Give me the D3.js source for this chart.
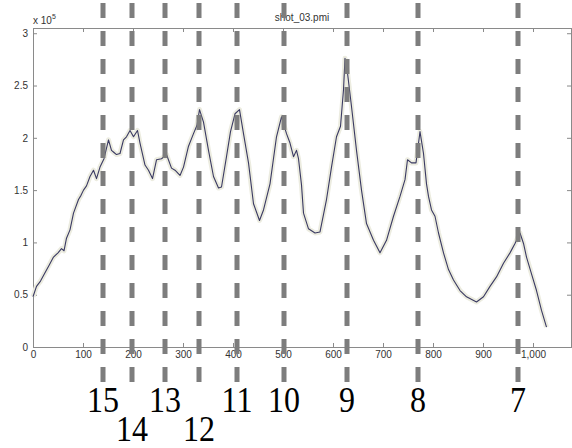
<!DOCTYPE html>
<html lang="en">
<head>
<meta charset="UTF-8">
<title>shot_03.pmi</title>
<script src="https://d3js.org/d3.v7.min.js"></script>
<style>
  body { margin: 0; background: #fff; }
  svg { display: block; }
</style>
</head>
<body>
<svg width="572" height="448"></svg>
<script>
// curve samples (x index, intensity in units of 1e5)
const sampleX = [0, 7, 15, 24, 32, 41, 50, 57, 62, 67, 74, 81, 91, 96, 101, 107, 114, 121, 127, 134,
  142, 151, 157, 162, 167, 174, 181, 187, 194, 201, 209, 214, 224, 231, 239, 247, 257, 267, 277, 284,
  294, 301, 311, 321, 328, 333, 341, 351, 361, 371, 377, 387, 395, 404, 413, 421, 431, 441, 453, 461,
  474, 487, 497, 507, 514, 521, 527, 531, 537, 541, 551, 564, 574, 587, 597, 607, 615, 621, 624, 629,
  637, 647, 657, 667, 681, 694, 707, 721, 734, 744, 749, 757, 766, 774, 781, 787, 791, 797, 804, 811,
  821, 831, 841, 854, 867, 887, 901, 914, 927, 941, 954, 964, 974, 981, 987, 997, 1007, 1017, 1027];
const sampleY = [0.48, 0.58, 0.63, 0.71, 0.78, 0.86, 0.90, 0.94, 0.92, 1.04, 1.12, 1.28, 1.41, 1.45, 1.50, 1.54, 1.63, 1.69, 1.61, 1.72,
  1.80, 1.98, 1.88, 1.86, 1.84, 1.85, 1.98, 2.01, 2.07, 2.01, 2.07, 1.95, 1.74, 1.69, 1.61, 1.79, 1.80, 1.84, 1.71, 1.69,
  1.64, 1.72, 1.92, 2.04, 2.12, 2.27, 2.15, 1.88, 1.63, 1.52, 1.53, 1.82, 2.06, 2.23, 2.27, 2.04, 1.76, 1.37, 1.21, 1.31,
  1.56, 2.01, 2.20, 2.04, 1.95, 1.82, 1.88, 1.80, 1.55, 1.28, 1.13, 1.09, 1.10, 1.41, 1.72, 2.01, 2.11, 2.46, 2.76, 2.62,
  2.30, 1.88, 1.50, 1.18, 1.02, 0.90, 1.02, 1.25, 1.44, 1.60, 1.79, 1.76, 1.76, 2.06, 1.85, 1.56, 1.44, 1.31, 1.25, 1.09,
  0.90, 0.74, 0.64, 0.54, 0.48, 0.43, 0.48, 0.58, 0.67, 0.80, 0.90, 0.99, 1.09, 0.99, 0.86, 0.70, 0.54, 0.35, 0.19];

// marked peaks and their numbers
const peakX = [140, 198, 264, 332, 408, 502, 628, 770, 970];
const peakLabels = ["15", "14", "13", "12", "11", "10", "9", "8", "7"];
const lowerRowLabels = ["14", "12"];

const xTicks = [0, 100, 200, 300, 400, 500, 600, 700, 800, 900, 1000];
const yTicks = [0, 0.5, 1, 1.5, 2, 2.5, 3];

const svg = d3.select("svg");

const x = d3.scaleLinear().domain([0, 1078]).range([33, 572]);
const y = d3.scaleLinear().domain([0, 3.05]).range([347, 28]);

const axisColor = "#8a8a8a";

// axes (MATLAB style, ticks pointing inward)
function styleAxis(g) {
  g.select(".domain").attr("stroke", axisColor);
  g.selectAll(".tick line").attr("stroke", axisColor);
  g.selectAll("text").attr("fill", "#333").style("font-family", "Liberation Sans, Arial, sans-serif").style("font-size", "10px");
}

svg.append("g")
  .attr("transform", "translate(0,347)")
  .call(d3.axisBottom(x).tickValues(xTicks).tickSizeInner(-4).tickSizeOuter(0).tickPadding(4))
  .call(styleAxis);

svg.append("g")
  .attr("transform", "translate(0,28)")
  .call(d3.axisTop(x).tickValues(xTicks).tickSizeInner(-4).tickSizeOuter(0).tickFormat(""))
  .call(styleAxis);

svg.append("g")
  .attr("transform", "translate(33,0)")
  .call(d3.axisLeft(y).tickValues(yTicks).tickSizeInner(-4).tickSizeOuter(0).tickPadding(5).tickFormat(d3.format("~g")))
  .call(styleAxis);

svg.append("g")
  .attr("transform", "translate(571,0)")
  .call(d3.axisRight(y).tickValues(yTicks).tickSizeInner(-4).tickSizeOuter(0).tickFormat(""))
  .call(styleAxis);

// exponent label and title
const expo = svg.append("text")
  .attr("x", 33).attr("y", 24)
  .style("font-family", "Liberation Sans, Arial, sans-serif")
  .style("font-size", "10px")
  .attr("fill", "#333");
expo.append("tspan").text("x 10");
expo.append("tspan").attr("dy", -5).style("font-size", "7px").text("5");

svg.append("text")
  .attr("x", 302).attr("y", 21)
  .attr("text-anchor", "middle")
  .style("font-family", "Liberation Sans, Arial, sans-serif")
  .style("font-size", "10px")
  .attr("fill", "#333")
  .text("shot_03.pmi");

// the curve
const pts = sampleX.map((d, i) => [d, sampleY[i]]);
const line = d3.line().x(d => x(d[0])).y(d => y(d[1]));

svg.append("path")
  .datum(pts)
  .attr("d", line)
  .attr("fill", "none")
  .attr("stroke", "#ecece0")
  .attr("stroke-width", 5)
  .attr("stroke-linejoin", "round");

svg.append("path")
  .datum(pts)
  .attr("d", line)
  .attr("fill", "none")
  .attr("stroke", "#3a3a62")
  .attr("stroke-width", 1.1)
  .attr("stroke-linejoin", "round");

// dashed peak markers
svg.append("g")
  .selectAll("line")
  .data(peakX)
  .join("line")
  .attr("x1", d => x(d)).attr("x2", d => x(d))
  .attr("y1", 3).attr("y2", 384)
  .attr("stroke", "#7d7d7d")
  .attr("stroke-width", 5)
  .attr("stroke-dasharray", "15,13");

// peak numbers
svg.append("g")
  .selectAll("text")
  .data(peakLabels)
  .join("text")
  .attr("transform", (d, i) => {
    const base = lowerRowLabels.includes(d) ? 441 : 412;
    return "translate(" + x(peakX[i]) + "," + base + ") scale(1,1.15)";
  })
  .attr("text-anchor", "middle")
  .style("font-family", "Liberation Serif, Times New Roman, serif")
  .style("font-size", "32px")
  .attr("fill", "#000")
  .text(d => d);
</script>
</body>
</html>
